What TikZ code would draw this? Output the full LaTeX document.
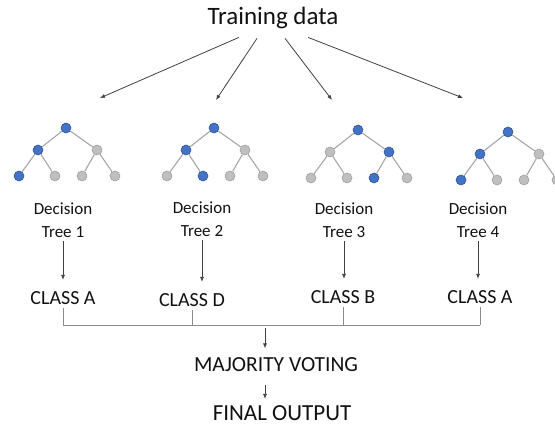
\documentclass[tikz,border=0pt]{standalone}
\usepackage{fontspec}
\setmainfont{Carlito}
\usetikzlibrary{arrows.meta,positioning}

\definecolor{nodeblue}{HTML}{4472C4}
\definecolor{nodeblueline}{HTML}{2F5597}
\definecolor{nodegray}{HTML}{BFBFBF}
\definecolor{nodegrayline}{HTML}{A0A0A0}
\definecolor{linegray}{HTML}{A6A6A6}
\definecolor{textdark}{HTML}{111111}

\tikzset{
  bnode/.style={circle,draw=nodeblueline,fill=nodeblue,inner sep=0pt,minimum size=10pt,line width=0.6pt},
  gnode/.style={circle,draw=nodegrayline,fill=nodegray,inner sep=0pt,minimum size=10pt,line width=0.6pt},
  treeline/.style={draw=linegray,line width=1.1pt},
  arr/.style={-{Latex[length=5pt,width=4pt]},draw=black!75,line width=0.8pt},
  bracket/.style={draw=black!45,line width=1pt},
  dtlabel/.style={align=center,text=textdark,font=\fontsize{17}{23}\selectfont},
  cls/.style={text=textdark,font=\fontsize{20}{24}\selectfont}
}

% one decision tree: name, root x, root y, middle level, leaves
\newcommand{\dtree}[9]{%
  \node[bnode] (#1r) at (#2,#3) {};
  \node[#4] (#1a) at (#2-28,#3+22) {};
  \node[#5] (#1b) at (#2+31,#3+22) {};
  \node[#6] (#1c) at (#2-47,#3+48) {};
  \node[#7] (#1d) at (#2-11,#3+48) {};
  \node[#8] (#1e) at (#2+16,#3+48) {};
  \node[#9] (#1f) at (#2+49,#3+48) {};
  \draw[treeline] (#1r) -- (#1a) (#1r) -- (#1b)
    (#1a) -- (#1c) (#1a) -- (#1d) (#1b) -- (#1e) (#1b) -- (#1f);
}

\begin{document}
\begin{tikzpicture}[x=1pt,y=-1pt]
  \useasboundingbox (0,0) rectangle (555,425);
  \clip (0,0) rectangle (555,425);

  \node[text=textdark,font=\fontsize{25}{29}\selectfont] (title) at (273,18) {Training data};

  % the four trees
  \dtree{ta}{66}{128}{bnode}{gnode}{bnode}{gnode}{gnode}{gnode}
  \dtree{tb}{214}{128}{bnode}{gnode}{gnode}{bnode}{gnode}{gnode}
  \dtree{tc}{358}{130}{gnode}{bnode}{gnode}{gnode}{bnode}{gnode}
  \dtree{td}{508}{132}{bnode}{gnode}{bnode}{gnode}{gnode}{gnode}

  % arrows from the data to the trees
  \coordinate (top1) at (100,98);
  \coordinate (top2) at (216,100);
  \coordinate (top3) at (332,100);
  \coordinate (top4) at (463,98);
  \draw[arr] ([xshift=-34pt,yshift=-5pt]title.south) -- (top1);
  \draw[arr] ([xshift=-16pt,yshift=-6pt]title.south) -- (top2);
  \draw[arr] ([xshift=12pt,yshift=-6pt]title.south) -- (top3);
  \draw[arr] ([xshift=35pt,yshift=-5pt]title.south) -- (top4);

  \node[dtlabel] (dt1) at (63,220) {Decision\\Tree 1};
  \node[dtlabel] (dt2) at (202,219) {Decision\\Tree 2};
  \node[dtlabel] (dt3) at (344,220) {Decision\\Tree 3};
  \node[dtlabel] (dt4) at (478,220) {Decision\\Tree 4};

  \node[cls] (c1) at (63,298) {CLASS A};
  \node[cls] (c2) at (192,300) {CLASS D};
  \node[cls] (c3) at (343,297) {CLASS B};
  \node[cls] (c4) at (480,297) {CLASS A};

  \foreach \i in {1,2,3,4}
    \draw[arr,shorten >=8pt] (dt\i.south) -- (dt\i.south |- c\i.north);

  % collect the votes
  \coordinate (bar) at (265,325);
  \draw[bracket] (c1.south |- bar) -- (c4.south |- bar);
  \foreach \i in {1,2,3,4}
    \draw[bracket] (c\i.south) -- (c\i.south |- bar);

  \node[cls,font=\fontsize{21.5}{25}\selectfont] (vote) at (276,365) {MAJORITY VOTING};
  \node[cls,font=\fontsize{23}{27}\selectfont] (final) at (282,413) {FINAL OUTPUT};

  \draw[arr,shorten <=3pt,shorten >=6pt] (bar) -- (bar |- vote.north);
  \draw[arr,shorten <=9pt,shorten >=3pt] (vote.south -| bar) -- (bar |- final.north);
\end{tikzpicture}
\end{document}
